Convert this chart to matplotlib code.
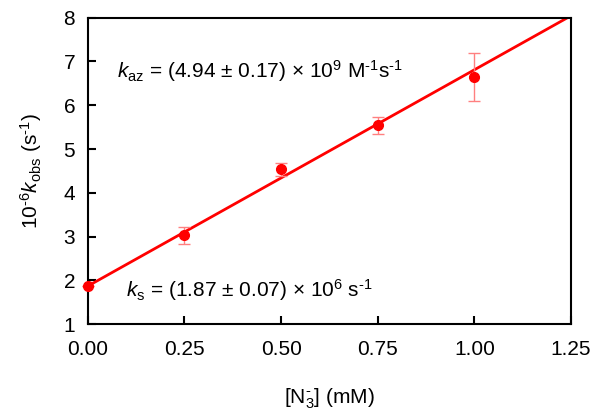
import matplotlib.pyplot as plt
import numpy as np

plt.rcParams['font.family'] = ['Liberation Sans', 'DejaVu Sans']
plt.rcParams['mathtext.fontset'] = 'custom'
plt.rcParams['mathtext.rm'] = 'Liberation Sans'
plt.rcParams['mathtext.it'] = 'Liberation Sans:italic'

# Data
azide_mM = [0.0, 0.25, 0.50, 0.75, 1.00]
k_obs = [1.87, 3.03, 4.54, 5.54, 6.64]
k_err = [0.0, 0.20, 0.15, 0.20, 0.55]

# Fit parameters
k_s = 1.87
k_az = 4.94

fig = plt.figure(figsize=(6.05, 4.2), dpi=100)
ax = fig.add_axes([0.145, 0.228, 0.799, 0.73])

xfit = np.array([0.0, 1.25])
ax.plot(xfit, k_s + k_az * xfit, color='#ff0000', lw=2, zorder=2)
ax.errorbar(azide_mM, k_obs, yerr=k_err, fmt='o', color='#ff0000', ms=7,
            ecolor='#ff8080', elinewidth=1, capsize=4, capthick=1, zorder=3,
            clip_on=False)

ax.set_xlim(0, 1.25)
ax.set_ylim(1, 8)
ax.set_xticks([0, 0.25, 0.5, 0.75, 1.0, 1.25])
ax.set_xticklabels(['0.00', '0.25', '0.50', '0.75', '1.00', '1.25'])
ax.set_yticks(range(1, 9))
ax.tick_params(direction='in', length=6, width=1.5, labelsize=15)
ax.tick_params(axis='x', pad=11)
ax.tick_params(axis='y', pad=9)
for s in ax.spines.values():
    s.set_linewidth(1.5)

ax.set_xlabel(r'[N$_3^{\text{-}}$] (mM)', fontsize=15, labelpad=20)
ax.set_ylabel(r'10$^{\text{-}6}$$k_{\mathrm{obs}}$ (s$^{\text{-}1}$)', fontsize=15, labelpad=14)

ax.text(0.075, 6.77, r'$k_{\mathrm{az}}$ = (4.94 ± 0.17) × 10$^9$ M$^{\text{-}1}$s$^{\text{-}1}$',
        fontsize=15, va='center')
ax.text(0.098, 1.78, r'$k_{\mathrm{s}}$ = (1.87 ± 0.07) × 10$^6$ s$^{\text{-}1}$',
        fontsize=15, va='center')

fig.savefig('out.png', dpi=100)
